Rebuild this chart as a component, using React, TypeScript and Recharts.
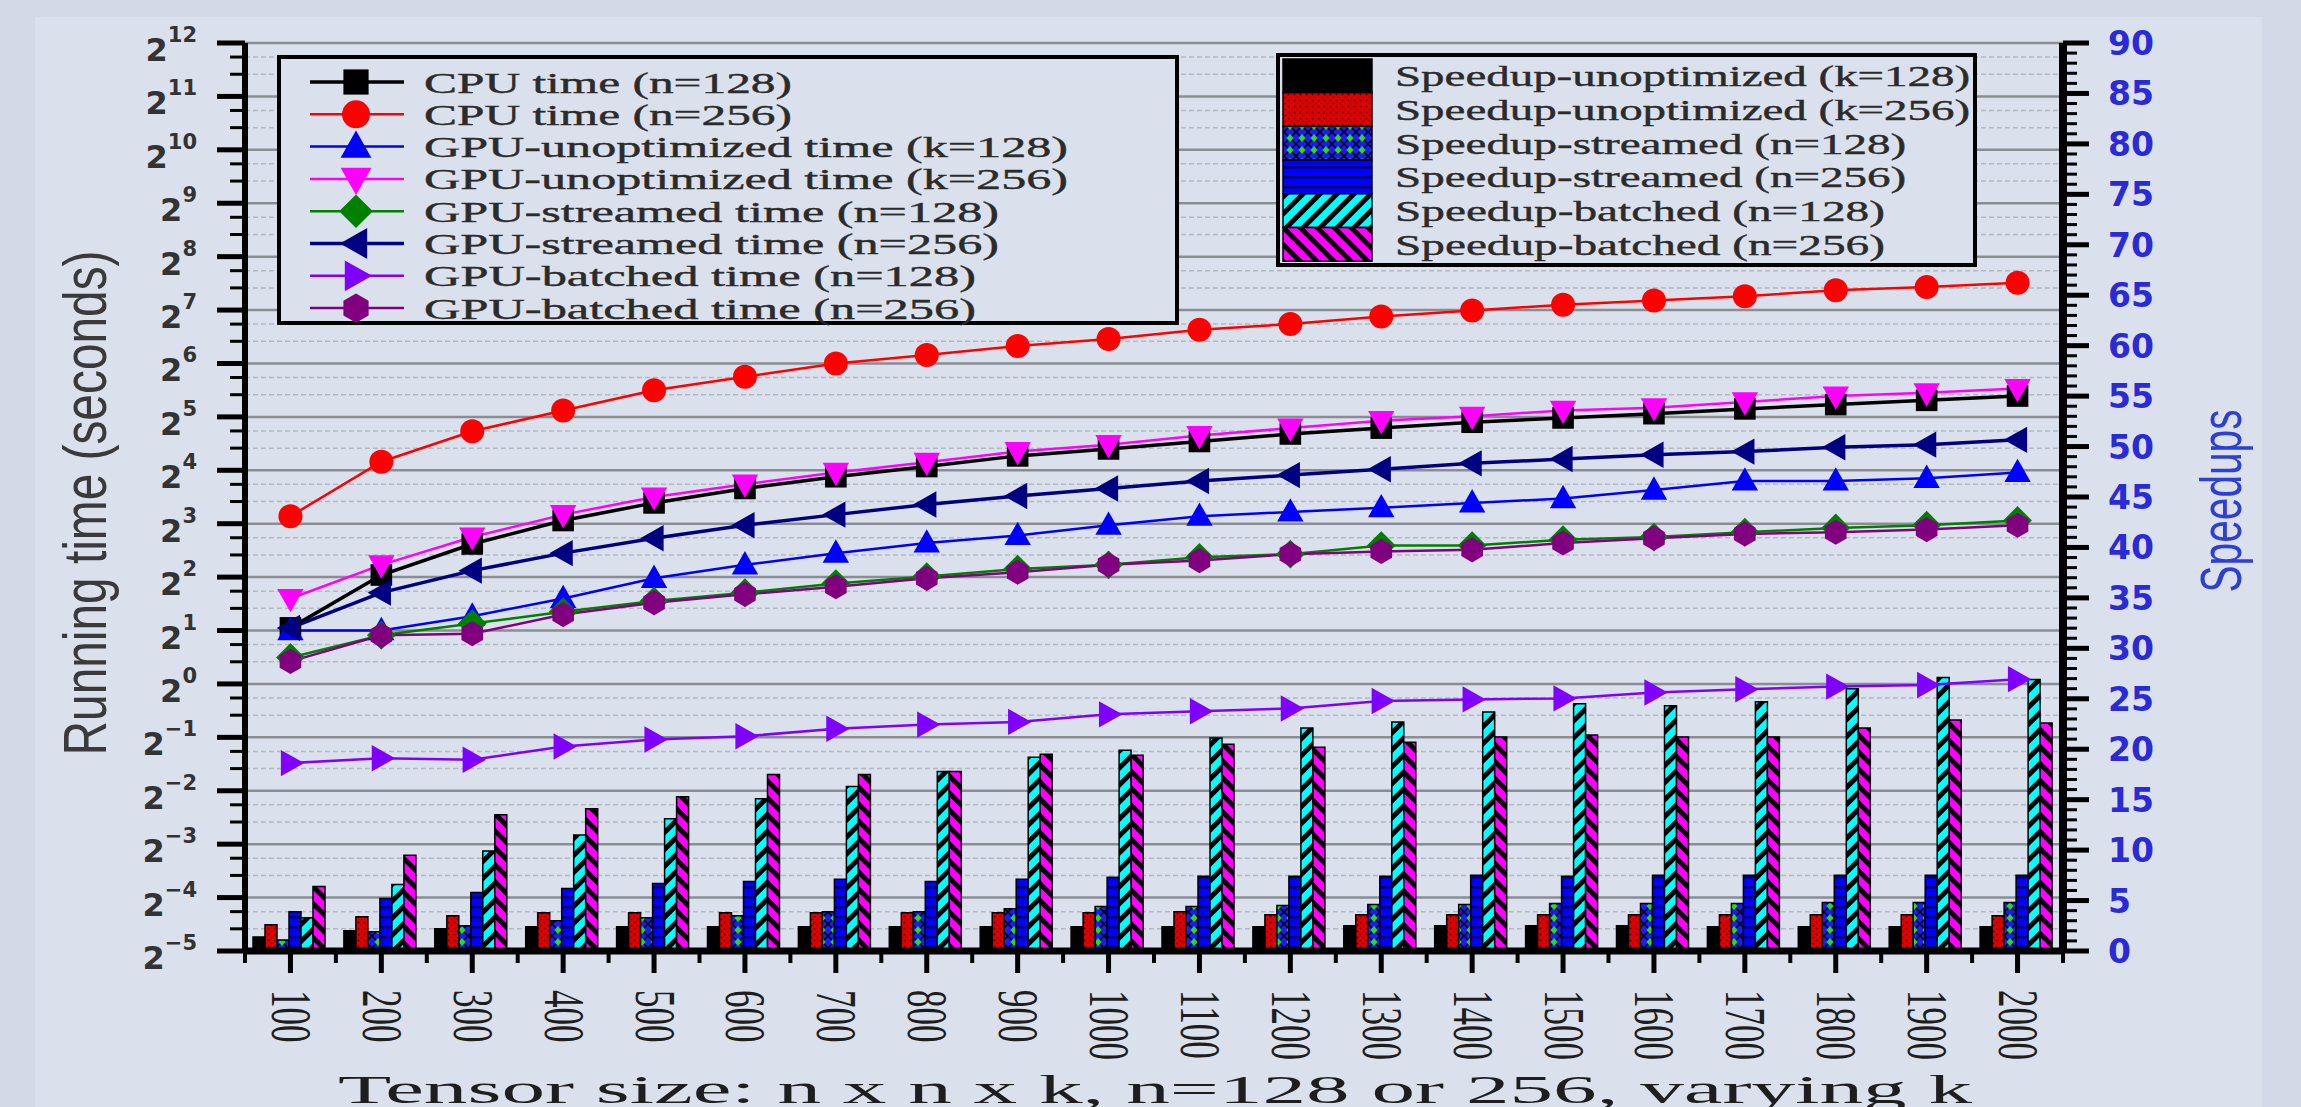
import React from 'react';
import { ComposedChart, Bar, Line, XAxis, YAxis, CartesianGrid } from 'recharts';

const W = 2301;
const H = 1107;
const PLOT_W = 2063 - 245;
const BAND = PLOT_W / 20;

const tensorSizes = ['100', '200', '300', '400', '500', '600', '700', '800', '900', '1000', '1100', '1200', '1300', '1400', '1500', '1600', '1700', '1800', '1900', '2000'];

// running times in seconds (left, log2 axis)
const cpuTime128 = [2.07, 4.11, 6.15, 8.34, 10.48, 12.64, 14.72, 16.8, 19.29, 21.11, 23.26, 25.63, 27.66, 29.86, 31.56, 33.36, 35.5, 37.53, 39.67, 41.94];
const cpuTime256 = [8.82, 17.88, 26.54, 34.78, 45.25, 53.82, 64, 71.5, 80.4, 88.0, 99.0, 106.9, 117.8, 127.1, 137.2, 145.0, 153.3, 165.4, 172.4, 182.3];
const gpuUnoptTime128 = [2.0, 2.0, 2.41, 3.03, 3.94, 4.69, 5.46, 6.23, 6.87, 7.84, 8.82, 9.32, 9.85, 10.48, 11.08, 12.38, 13.93, 13.93, 14.42, 15.56];
const gpuUnoptTime256 = [3.03, 4.69, 6.73, 9.0, 11.31, 13.36, 15.56, 17.75, 20.39, 22.32, 25.1, 27.66, 30.48, 32.22, 34.78, 36.0, 38.85, 41.94, 43.71, 46.2];
const gpuStreamTime128 = [1.41, 1.88, 2.19, 2.55, 2.93, 3.27, 3.68, 4.03, 4.44, 4.69, 5.17, 5.39, 6.02, 6.02, 6.5, 6.73, 7.16, 7.57, 7.84, 8.34];
const gpuStreamTime256 = [2.07, 3.27, 4.35, 5.46, 6.63, 7.84, 9.0, 10.27, 11.47, 12.64, 13.93, 15.03, 16.22, 17.51, 18.51, 19.56, 20.39, 21.56, 22.32, 23.75];
const gpuBatchTime128 = [0.358, 0.381, 0.374, 0.444, 0.486, 0.507, 0.559, 0.59, 0.611, 0.674, 0.702, 0.727, 0.801, 0.818, 0.829, 0.895, 0.933, 0.966, 0.986, 1.064];
const gpuBatchTime256 = [1.34, 1.88, 1.92, 2.46, 2.87, 3.2, 3.53, 3.94, 4.26, 4.69, 4.96, 5.39, 5.58, 5.7, 6.23, 6.63, 7.01, 7.16, 7.41, 7.84];

// speedups (right, linear axis)
const speedupUnopt128 = [1.4, 2.0, 2.2, 2.4, 2.4, 2.4, 2.4, 2.4, 2.4, 2.4, 2.4, 2.4, 2.5, 2.5, 2.5, 2.5, 2.4, 2.4, 2.4, 2.4];
const speedupUnopt256 = [2.6, 3.4, 3.5, 3.8, 3.8, 3.8, 3.8, 3.8, 3.8, 3.8, 3.9, 3.6, 3.6, 3.6, 3.6, 3.6, 3.6, 3.6, 3.6, 3.5];
const speedupStream128 = [1.1, 1.9, 2.5, 3.0, 3.3, 3.5, 3.9, 3.9, 4.2, 4.4, 4.4, 4.5, 4.6, 4.6, 4.7, 4.7, 4.7, 4.8, 4.8, 4.8];
const speedupStream256 = [3.9, 5.2, 5.8, 6.2, 6.7, 6.9, 7.1, 6.9, 7.1, 7.3, 7.4, 7.4, 7.4, 7.5, 7.4, 7.5, 7.5, 7.5, 7.5, 7.5];
const speedupBatch128 = [3.3, 6.6, 9.9, 11.5, 13.1, 15.1, 16.3, 17.8, 19.2, 19.9, 21.1, 22.1, 22.7, 23.7, 24.5, 24.3, 24.7, 26.0, 27.1, 26.9];
const speedupBatch256 = [6.4, 9.5, 13.5, 14.1, 15.3, 17.5, 17.5, 17.8, 19.5, 19.4, 20.5, 20.2, 20.7, 21.2, 21.4, 21.2, 21.2, 22.1, 22.9, 22.6];

// axis ticks
const leftExponents = [-5, -4, -3, -2, -1, 0, 1, 2, 3, 4, 5, 6, 7, 8, 9, 10, 11, 12];
const leftMinorFactors = [4 / 3, 5 / 3];

const leftMajor = leftExponents.map((e) => 2 ** e);
const leftMinor = leftExponents.slice(0, -1).flatMap((e) => leftMinorFactors.map((f) => 2 ** e * f));
const leftTicks = [...leftMajor, ...leftMinor].sort((a, b) => a - b);
const rightTicks = Array.from({ length: 91 }, (_, i) => i);

const lineSeries = [
  { key: 'cpu128', name: 'CPU time (n=128)', color: '#000000', width: 3.5, shape: 'square' },
  { key: 'cpu256', name: 'CPU time (n=256)', color: '#ff0000', width: 2.5, shape: 'circle' },
  { key: 'unopt128', name: 'GPU-unoptimized time (k=128)', color: '#0000ff', width: 2.5, shape: 'up' },
  { key: 'unopt256', name: 'GPU-unoptimized time (k=256)', color: '#ff00ff', width: 2.5, shape: 'down' },
  { key: 'stream128', name: 'GPU-streamed time (n=128)', color: '#008000', width: 2.5, shape: 'diamond' },
  { key: 'stream256', name: 'GPU-streamed time (n=256)', color: '#000080', width: 3.5, shape: 'left' },
  { key: 'batch128', name: 'GPU-batched time (n=128)', color: '#8000ff', width: 2.5, shape: 'right' },
  { key: 'batch256', name: 'GPU-batched time (n=256)', color: '#800080', width: 2.5, shape: 'hexagon' },
];

const barSeries = [
  { key: 'sUnopt128', name: 'Speedup-unoptimized (k=128)', fill: '#000000' },
  { key: 'sUnopt256', name: 'Speedup-unoptimized (k=256)', fill: 'url(#pRed)' },
  { key: 'sStream128', name: 'Speedup-streamed (n=128)', fill: 'url(#pStream128)' },
  { key: 'sStream256', name: 'Speedup-streamed (n=256)', fill: 'url(#pStream256)' },
  { key: 'sBatch128', name: 'Speedup-batched (n=128)', fill: 'url(#pBatch128)' },
  { key: 'sBatch256', name: 'Speedup-batched (n=256)', fill: 'url(#pBatch256)' },
];

function markerShape(shape: string, cx: number, cy: number, color: string, s: number) {
  const p = (pts: number[][]) => pts.map(([a, b]) => `${cx + a * s},${cy + b * s}`).join(' ');
  switch (shape) {
    case 'square':
      return <rect x={cx - s * 0.9} y={cy - s * 0.9} width={s * 1.8} height={s * 1.8} fill={color} />;
    case 'circle':
      return <circle cx={cx} cy={cy} r={s} fill={color} />;
    case 'up':
      return <polygon points={p([[0, -1.15], [1.1, 0.8], [-1.1, 0.8]])} fill={color} />;
    case 'down':
      return <polygon points={p([[0, 1.15], [1.1, -0.8], [-1.1, -0.8]])} fill={color} />;
    case 'diamond':
      return <polygon points={p([[0, -1.2], [1.2, 0], [0, 1.2], [-1.2, 0]])} fill={color} />;
    case 'left':
      return <polygon points={p([[-1.15, 0], [0.8, -1.1], [0.8, 1.1]])} fill={color} />;
    case 'right':
      return <polygon points={p([[1.15, 0], [-0.8, -1.1], [-0.8, 1.1]])} fill={color} />;
    default:
      return <polygon points={p([[0, -1.05], [0.9, -0.52], [0.9, 0.52], [0, 1.05], [-0.9, 0.52], [-0.9, -0.52]])} fill={color} />;
  }
}

function LeftTick({ x, y, payload }: any) {
  const l = Math.log2(payload.value);
  const e = Math.round(l);
  const major = Math.abs(l - e) < 1e-6;
  return (
    <g>
      <line x1={x - (major ? 28 : 15)} x2={x} y1={y} y2={y} stroke="#000" strokeWidth={major ? 5 : 3} />
      {major && (
        <text x={x - 48} y={y + 18} textAnchor="end" fontFamily="DejaVu Sans" fontWeight="bold" fill="#333">
          <tspan fontSize={32}>2</tspan>
          <tspan fontSize={21} dy={-19}>{e < 0 ? '\u2212' + -e : e}</tspan>
        </text>
      )}
    </g>
  );
}

function RightTick({ x, y, payload }: any) {
  const v = payload.value;
  const major = v % 5 === 0;
  return (
    <g>
      <line x1={x} x2={x + (major ? 26 : 14)} y1={y} y2={y} stroke="#000" strokeWidth={major ? 5 : 3} />
      {major && (
        <text x={x + 45} y={y + 12} fontFamily="DejaVu Sans" fontWeight="bold" fontSize={33} fill="#2a2ad6">
          {v}
        </text>
      )}
    </g>
  );
}

function XTick({ x, y, payload, index }: any) {
  const last = index === tensorSizes.length - 1;
  return (
    <g>
      <line x1={x} x2={x} y1={y} y2={y + 22} stroke="#000" strokeWidth={5} />
      <line x1={x - BAND / 2} x2={x - BAND / 2} y1={y} y2={y + 12} stroke="#000" strokeWidth={4} />
      {last && <line x1={x + BAND / 2} x2={x + BAND / 2} y1={y} y2={y + 12} stroke="#000" strokeWidth={4} />}
      <g transform={`translate(${x},${y + 39}) rotate(90) scale(1,1.6)`}>
        <text x={0} y={0} dy="0.33em" fontFamily="Liberation Serif" fontSize={35} fill="#1e1e1e">
          {payload.value}
        </text>
      </g>
    </g>
  );
}

export default function App() {
  const data = tensorSizes.map((size, i) => ({
    size,
    cpu128: cpuTime128[i],
    cpu256: cpuTime256[i],
    unopt128: gpuUnoptTime128[i],
    unopt256: gpuUnoptTime256[i],
    stream128: gpuStreamTime128[i],
    stream256: gpuStreamTime256[i],
    batch128: gpuBatchTime128[i],
    batch256: gpuBatchTime256[i],
    sUnopt128: speedupUnopt128[i],
    sUnopt256: speedupUnopt256[i],
    sStream128: speedupStream128[i],
    sStream256: speedupStream256[i],
    sBatch128: speedupBatch128[i],
    sBatch256: speedupBatch256[i],
  }));

  const legendFont = 'Liberation Serif';

  return (
    <div style={{ position: 'absolute', left: 0, top: 0, width: W, height: H, background: '#d3d9e6', overflow: 'hidden' }}>
      <div style={{ position: 'absolute', left: 35, top: 17, width: 2227, height: 1090, background: '#dbe1ec' }} />
      <div style={{ position: 'absolute', left: 0, top: 0 }}>
        <ComposedChart
          width={W}
          height={H}
          data={data}
          margin={{ top: 43, right: 138, bottom: 16, left: 145 }}
          barCategoryGap={8}
          barGap={0}
        >
          <CartesianGrid yAxisId="left" vertical={false} horizontalValues={leftMinor} stroke="#b3b8c2" strokeDasharray="5 3" strokeWidth={1.5} />
          <CartesianGrid yAxisId="left" vertical={false} horizontalValues={leftMajor} stroke="#8a8d94" strokeWidth={2.5} />
          <XAxis
            dataKey="size"
            height={140}
            interval={0}
            tickSize={0}
            tickMargin={0}
            tickLine={false}
            axisLine={{ stroke: '#000', strokeWidth: 7 }}
            tick={(p: any) => <XTick {...p} />}
          />
          <YAxis
            yAxisId="left"
            orientation="left"
            width={100}
            scale="log"
            domain={[1 / 32, 4096]}
            ticks={leftTicks}
            interval={0}
            allowDataOverflow
            tickSize={0}
            tickMargin={0}
            tickLine={false}
            axisLine={{ stroke: '#000', strokeWidth: 6 }}
            tick={(p: any) => <LeftTick {...p} />}
          />
          <YAxis
            yAxisId="right"
            orientation="right"
            width={100}
            domain={[0, 90]}
            ticks={rightTicks}
            interval={0}
            allowDataOverflow
            tickSize={0}
            tickMargin={0}
            tickLine={false}
            axisLine={{ stroke: '#000', strokeWidth: 8 }}
            tick={(p: any) => <RightTick {...p} />}
          />
          {barSeries.map((b) => (
            <Bar
              key={b.key}
              yAxisId="right"
              dataKey={b.key}
              name={b.name}
              fill={b.fill}
              stroke="#000"
              strokeWidth={1.5}
              isAnimationActive={false}
            />
          ))}
          {lineSeries.map((s) => (
            <Line
              key={s.key}
              yAxisId="left"
              dataKey={s.key}
              name={s.name}
              stroke={s.color}
              strokeWidth={s.width}
              isAnimationActive={false}
              dot={(p: any) => <g key={`${s.key}-${p.index}`}>{markerShape(s.shape, p.cx, p.cy, s.color, 12)}</g>}
              activeDot={false}
            />
          ))}
        </ComposedChart>
      </div>
      <svg width={W} height={H} style={{ position: 'absolute', left: 0, top: 0, pointerEvents: 'none' }}>
        <defs>
          <pattern id="pRed" width="6" height="6" patternUnits="userSpaceOnUse">
            <rect width="6" height="6" fill="#e00000" />
            <circle cx="1.5" cy="1.5" r="1" fill="#5a0000" />
            <circle cx="4.5" cy="4.5" r="1" fill="#5a0000" />
          </pattern>
          <pattern id="pStream128" width="12" height="12" patternUnits="userSpaceOnUse">
            <rect width="12" height="12" fill="#1c1cf0" />
            <path d="M0,0 L12,12 M12,0 L0,12" stroke="#000" strokeWidth="1.5" />
            <polygon points="6,2 9.5,6 6,10 2.5,6" fill="#22dd22" />
          </pattern>
          <pattern id="pStream256" width="10" height="10" patternUnits="userSpaceOnUse">
            <rect width="10" height="10" fill="#0000ff" />
            <rect y="6" width="10" height="2.5" fill="#000070" />
          </pattern>
          <pattern id="pBatch128" width="12" height="12" patternUnits="userSpaceOnUse" patternTransform="rotate(45)">
            <rect width="12" height="12" fill="#00ffff" />
            <rect width="5" height="12" fill="#000" />
          </pattern>
          <pattern id="pBatch256" width="12" height="12" patternUnits="userSpaceOnUse" patternTransform="rotate(-45)">
            <rect width="12" height="12" fill="#ff00ff" />
            <rect width="5" height="12" fill="#000" />
          </pattern>
        </defs>

        {/* left legend */}
        <rect x={279} y={57} width={898} height={266} fill="#dbe1ec" stroke="#000" strokeWidth={4} />
        {lineSeries.map((s, i) => {
          const cy = 82 + i * 32.3;
          return (
            <g key={s.key}>
              <line x1={310} x2={404} y1={cy} y2={cy} stroke={s.color} strokeWidth={s.width} />
              {markerShape(s.shape, 356, cy, s.color, 14)}
              <text
                x={424}
                y={cy}
                dy="0.35em"
                fontFamily={legendFont}
                fontSize={30}
                textLength={s.name.length * 23}
                lengthAdjust="spacingAndGlyphs"
                fill="#2b2b2b"
                stroke="#2b2b2b"
                strokeWidth={0.4}
              >
                {s.name}
              </text>
            </g>
          );
        })}

        {/* right legend */}
        <rect x={1278} y={55} width={697} height={210} fill="#dbe1ec" stroke="#000" strokeWidth={4} />
        {barSeries.map((b, i) => {
          const y0 = 59 + i * 33.7;
          return (
            <g key={b.key}>
              <rect x={1283} y={y0} width={89} height={33.7} fill={b.fill} stroke="#000" strokeWidth={1.5} />
              <text
                x={1395}
                y={y0 + 16.8}
                dy="0.35em"
                fontFamily={legendFont}
                fontSize={30}
                textLength={b.name.length * 21.3}
                lengthAdjust="spacingAndGlyphs"
                fill="#2b2b2b"
                stroke="#2b2b2b"
                strokeWidth={0.4}
              >
                {b.name}
              </text>
            </g>
          );
        })}

        {/* axis titles */}
        <g transform="translate(85,503) rotate(-90) scale(1,1.6)">
          <text x={0} y={0} dy="0.35em" textAnchor="middle" fontFamily="Liberation Sans" fontSize={38} textLength={505} lengthAdjust="spacingAndGlyphs" fill="#3a3a3a">
            Running time (seconds)
          </text>
        </g>
        <g transform="translate(2221,501) rotate(-90) scale(1,1.6)">
          <text x={0} y={0} dy="0.35em" textAnchor="middle" fontFamily="Liberation Sans" fontSize={36} textLength={183} lengthAdjust="spacingAndGlyphs" fill="#2f3fd4">
            Speedups
          </text>
        </g>
        <text x={1155} y={1103} textAnchor="middle" fontFamily="Liberation Serif" fontSize={40} textLength={1634} lengthAdjust="spacingAndGlyphs" fill="#1e1e1e">
          Tensor size: n x n x k, n=128 or 256, varying k
        </text>
      </svg>
    </div>
  );
}
